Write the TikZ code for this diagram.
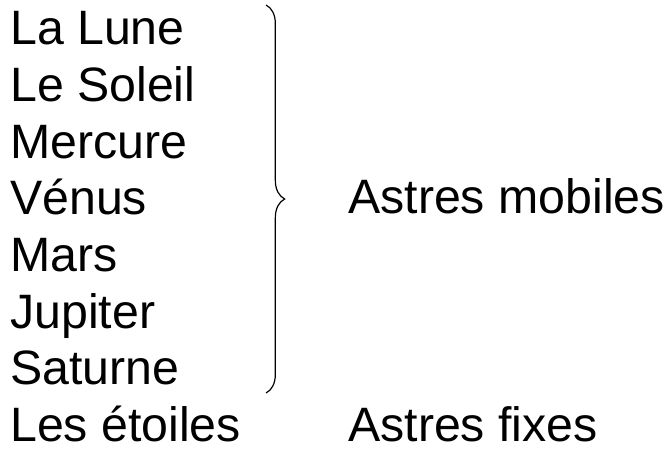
\documentclass[tikz,border=0pt]{standalone}
\usepackage{fontspec}
\setmainfont{Liberation Sans}
\usetikzlibrary{decorations.pathreplacing}

\tikzset{
  astre/.style={anchor=base west, inner sep=0pt, font=\fontsize{36.2}{43}\selectfont},
  accolade/.style={decorate, decoration={brace, amplitude=14pt, aspect=0.5}, line width=0.9pt}
}

\begin{document}
\begin{tikzpicture}[x=0.75pt, y=-0.75pt]
    \useasboundingbox (0,0) rectangle (666,452);

    \foreach \nom [count=\i] in {La Lune, Le Soleil, Mercure, V\'enus, Mars, Jupiter, Saturne, Les \'etoiles}
      {
        \node[astre] (a\i) at (10, {45 + 56.6*(\i-1)}) {\nom};
      }

    \coordinate (haut) at (266, 5);
    \coordinate (bas) at (266, 393);
    \draw[accolade] (haut) -- (bas);

    \node[astre] (mobiles) at (348, 213) {Astres mobiles};
    \node[astre] (fixes) at (348, 441.2) {Astres fixes};
  \end{tikzpicture}
\end{document}
